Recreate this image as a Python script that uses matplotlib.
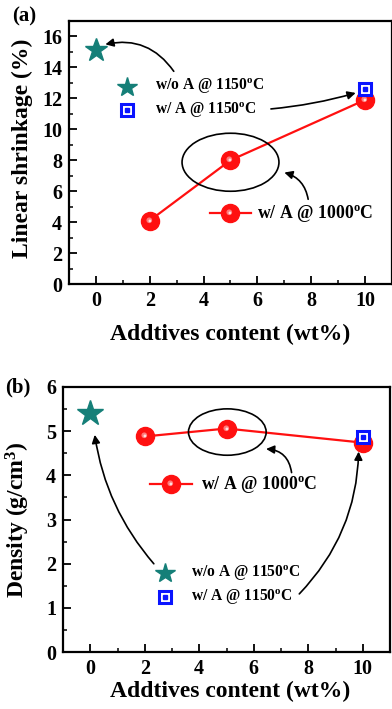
import matplotlib
matplotlib.use("Agg")
import matplotlib.pyplot as plt
from matplotlib.patches import Ellipse
from matplotlib.path import Path
from matplotlib.ticker import MultipleLocator

plt.rcParams['font.family'] = ['Liberation Serif', 'DejaVu Serif']
plt.rcParams['font.weight'] = 'bold'
plt.rcParams['mathtext.fontset'] = 'custom'
plt.rcParams['mathtext.rm'] = 'Liberation Serif:bold'
plt.rcParams['mathtext.bf'] = 'Liberation Serif:bold'
plt.rcParams['mathtext.it'] = 'Liberation Serif:bold'

# ---- data ----
x_1000 = [2, 5, 10]
shrink_1000 = [4.1, 8.0, 11.9]
density_1000 = [4.88, 5.06, 4.74]
x_woA = [0]
shrink_woA = [15.1]
density_woA = [5.41]
x_wA = [10]
shrink_wA = [12.6]
density_wA = [4.87]
xticks = [0, 2, 4, 6, 8, 10]
yticks_a = [0, 2, 4, 6, 8, 10, 12, 14, 16]
yticks_b = [0, 1, 2, 3, 4, 5, 6]

lab_woA = r"w/o A @ 1150$^{\rm o}$C"
lab_wA = r"w/ A @ 1150$^{\rm o}$C"
lab_1000 = r"w/ A @ 1000$^{\rm o}$C"

RED = '#ff1010'
TEAL = '#157f78'
BLUE = '#0a14ff'

W, H = 392, 709
fig = plt.figure(figsize=(W/100, H/100), dpi=100)
fig.patch.set_facecolor('white')

def ax_rect(l, r, t, b):
    return [l/W, 1 - b/H, (r-l)/W, (b-t)/H]

ax1 = fig.add_axes(ax_rect(69, 392, 21, 284))
ax2 = fig.add_axes(ax_rect(63, 390, 387, 652))

def style(ax):
    for s in ax.spines.values():
        s.set_linewidth(1.6)
    ax.tick_params(which='major', direction='in', length=6, width=1.3,
                   labelsize=14.5, top=False, right=False, pad=5)
    ax.tick_params(which='minor', direction='in', length=3, width=1.1,
                   top=False, right=False)
    ax.xaxis.set_minor_locator(MultipleLocator(1))
    ax.set_xlim(-1, 11)
    ax.set_xticks(xticks)
    ax.set_xlabel('Addtives content (wt%)', fontsize=17, fontweight='bold')

def bold_ticks(ax):
    for lab in ax.get_xticklabels() + ax.get_yticklabels():
        lab.set_fontweight('bold')

def sphere(ax, xs, ys, ms=13, clip=True):
    ax.plot(xs, ys, 'o', color=RED, ms=ms, mec=RED, zorder=4, clip_on=clip)
    ax.plot(xs, ys, marker=Path.circle(center=(-0.3, 0.3), radius=0.7),
            ls='none', color='#ff7a7a', ms=ms*0.45, mec='none', zorder=4.1, clip_on=clip)
    ax.plot(xs, ys, marker=Path.circle(center=(-0.3, 0.3), radius=0.7),
            ls='none', color='#ffe0e0', ms=ms*0.22, mec='none', zorder=4.2, clip_on=clip)

def square(ax, xs, ys):
    ax.plot(xs, ys, 's', mfc='white', mec=BLUE, mew=2.2, ms=9, zorder=6)
    ax.plot(xs, ys, 's', color=BLUE, ms=2.2, zorder=7)

arr = dict(arrowstyle='-|>', color='black', lw=1.2, mutation_scale=12)

# ---------- panel (a) ----------
style(ax1)
ax1.set_ylim(0, 17)
ax1.set_yticks(yticks_a)
ax1.yaxis.set_minor_locator(MultipleLocator(1))
ax1.set_ylabel('Linear shrinkage (%)', fontsize=17, fontweight='bold')
ax1.yaxis.set_label_coords(-0.113, 0.517)
ax1.xaxis.set_label_coords(0.498, -0.152)
bold_ticks(ax1)

ax1.plot(x_1000, shrink_1000, '-', color=RED, lw=1.6, zorder=3)
sphere(ax1, x_1000, shrink_1000)
ax1.plot(x_woA, shrink_woA, '*', color=TEAL, ms=17, mec=TEAL, zorder=5)
square(ax1, x_wA, shrink_wA)

# manual legend (a)
ax1.plot([1.15], [12.76], '*', color=TEAL, ms=15, mec=TEAL)
ax1.text(2.2, 12.76, lab_woA, fontsize=11.2, fontweight='bold', va='center')
square(ax1, [1.15], [11.25])
ax1.text(2.2, 11.25, lab_wA, fontsize=11.2, fontweight='bold', va='center')
ax1.plot([4.25, 5.75], [4.57, 4.57], '-', color=RED, lw=1.6)
sphere(ax1, [5.0], [4.57])
ax1.text(6.0, 4.57, lab_1000, fontsize=12.8, fontweight='bold', va='center')

ax1.add_patch(Ellipse((5.0, 7.87), 3.6, 3.75, fill=False, ec='black', lw=1.2, zorder=5))
ax1.annotate('', xy=(0.25, 15.45), xytext=(2.95, 13.6),
             arrowprops=dict(arr, connectionstyle='arc3,rad=0.35'))
ax1.annotate('', xy=(9.75, 12.4), xytext=(6.4, 11.3),
             arrowprops=dict(arr, connectionstyle='arc3,rad=0.05'))
ax1.annotate('', xy=(6.9, 7.25), xytext=(7.9, 5.3),
             arrowprops=dict(arr, connectionstyle='arc3,rad=0.35'))

fig.text(12/W, 1 - 16/H, '(a)', fontsize=15, fontweight='bold', va='center', ha='left')

# ---------- panel (b) ----------
style(ax2)
ax2.set_ylim(0, 6)
ax2.set_yticks(yticks_b)
ax2.yaxis.set_minor_locator(MultipleLocator(0.5))
ax2.set_ylabel(r'Density (g/cm$^{3}$)', fontsize=17, fontweight='bold')
ax2.yaxis.set_label_coords(-0.095, 0.50)
ax2.xaxis.set_label_coords(0.51, -0.11)
bold_ticks(ax2)

ax2.plot(x_1000, density_1000, '-', color=RED, lw=1.6, zorder=3)
sphere(ax2, x_1000, density_1000)
ax2.plot(x_woA, density_woA, '*', color=TEAL, ms=19, mec=TEAL, zorder=5)
square(ax2, x_wA, density_wA)

ax2.plot([2.76], [1.78], '*', color=TEAL, ms=15, mec=TEAL)
ax2.text(3.7, 1.78, lab_woA, fontsize=11.2, fontweight='bold', va='center')
square(ax2, [2.76], [1.24])
ax2.text(3.7, 1.24, lab_wA, fontsize=11.2, fontweight='bold', va='center')
ax2.plot([2.2, 3.72], [3.8, 3.8], '-', color=RED, lw=1.6)
sphere(ax2, [2.96], [3.8])
ax2.text(4.08, 3.8, lab_1000, fontsize=12.8, fontweight='bold', va='center')

ax2.add_patch(Ellipse((5.03, 4.98), 2.85, 1.05, fill=False, ec='black', lw=1.2, zorder=5))
ax2.annotate('', xy=(0.15, 4.98), xytext=(2.4, 1.95),
             arrowprops=dict(arr, connectionstyle='arc3,rad=-0.15'))
ax2.annotate('', xy=(9.85, 4.6), xytext=(7.6, 1.27),
             arrowprops=dict(arr, connectionstyle='arc3,rad=0.2'))
ax2.annotate('', xy=(6.35, 4.6), xytext=(7.4, 4.0),
             arrowprops=dict(arr, connectionstyle='arc3,rad=0.45'))

fig.text(5/W, 1 - 387/H, '(b)', fontsize=15, fontweight='bold', va='center', ha='left')

fig.savefig('out.png', dpi=100, facecolor=fig.get_facecolor())
